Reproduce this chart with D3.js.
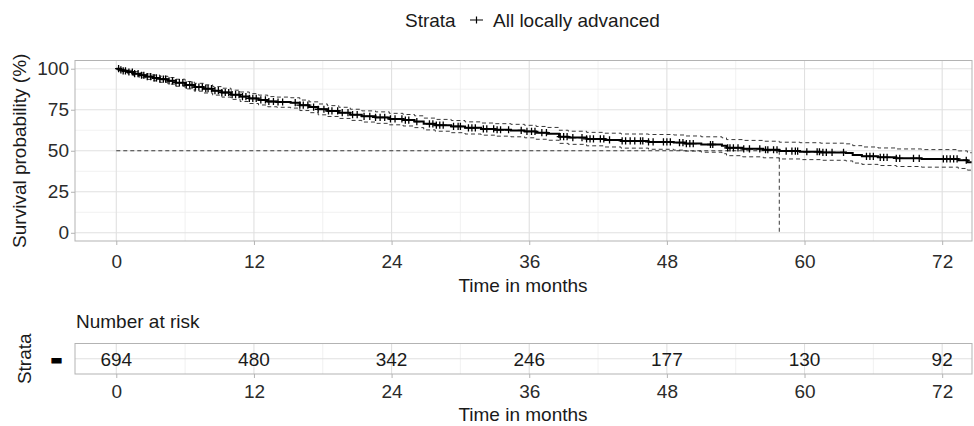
<!DOCTYPE html>
<html>
<head>
<meta charset="utf-8">
<script src="https://cdn.jsdelivr.net/npm/d3@7"></script>
<style>
  body { margin: 0; background: #fff; }
  svg { display: block; font-family: "Liberation Sans", Arial, sans-serif; }
</style>
</head>
<body>
<div id="chart-area"></div>
<script>
/*
*   KM survival curve + number at risk table
*/
// survival steps (months, %)
let times = [0, 0.3, 0.6, 1.0, 1.5, 2.0, 2.6, 3.2, 3.8, 4.5, 5.2, 6.0, 6.8, 7.6, 8.4, 9.2, 10.0, 10.8, 11.6,
    12.4, 13.2, 14.0, 15.2, 16.0, 16.8, 17.6, 18.4, 19.4, 20.4, 21.4, 22.6, 23.8, 25.0, 26.0, 26.8, 27.8,
    29.2, 30.4, 31.8, 33.0, 34.4, 35.6, 36.6, 37.6, 38.6, 39.4, 41.0, 42.6, 44.0, 46.4, 48.6, 49.6, 51.0,
    52.8, 53.2, 54.6, 56.4, 57.8, 59.6, 61.4, 63.6, 64.2, 65.0, 66.4, 68.0, 70.2, 73.4, 74.2, 75.0];
let surv = [100, 99.3, 98.7, 98.0, 97.0, 96.0, 95.2, 94.4, 93.6, 92.6, 91.5, 90.0, 88.8, 87.8, 86.6, 85.5, 84.2, 83.0, 81.9,
    81.0, 80.0, 79.7, 79.3, 77.8, 76.6, 75.3, 74.3, 73.2, 72.0, 71.0, 70.3, 69.4, 68.7, 67.8, 66.4, 65.6,
    64.8, 64.0, 63.3, 62.8, 62.4, 61.8, 61.0, 60.4, 58.6, 58.0, 57.2, 56.6, 56.0, 55.4, 55.0, 54.4, 53.8,
    53.0, 51.8, 51.2, 50.6, 49.8, 49.4, 49.0, 48.6, 47.4, 46.6, 46.0, 45.4, 45.0, 44.2, 43.0, 43.0];
let upper = [100, 99.8, 99.4, 99.0, 98.2, 97.4, 96.8, 96.1, 95.4, 94.6, 93.6, 92.2, 91.1, 90.2, 89.1, 88.1, 86.9, 85.8, 84.8,
    83.9, 83.0, 82.7, 82.3, 80.9, 79.8, 78.5, 77.5, 76.5, 75.3, 74.3, 73.7, 72.8, 72.1, 71.3, 69.9, 69.1,
    68.4, 67.6, 66.9, 66.5, 66.1, 65.5, 64.8, 64.2, 62.5, 61.9, 61.2, 60.7, 60.2, 59.9, 59.6, 59.0, 58.5,
    57.9, 56.8, 56.3, 55.8, 55.2, 54.9, 54.6, 54.2, 53.1, 52.3, 51.7, 51.1, 50.7, 49.9, 48.8, 48.8];
let lower = [100, 98.7, 97.9, 96.9, 95.7, 94.5, 93.5, 92.6, 91.7, 90.6, 89.3, 87.7, 86.3, 85.2, 83.9, 82.7, 81.3, 80.0, 78.8,
    77.9, 76.8, 76.5, 76.0, 74.5, 73.2, 71.9, 70.9, 69.7, 68.5, 67.5, 66.7, 65.8, 65.1, 64.1, 62.7, 61.9,
    61.0, 60.2, 59.5, 58.9, 58.5, 57.9, 57.0, 56.4, 54.5, 53.9, 53.0, 52.3, 51.6, 50.9, 50.4, 49.8, 49.1,
    48.2, 47.0, 46.3, 45.7, 45.0, 44.6, 44.2, 43.8, 42.5, 41.7, 41.0, 40.4, 40.0, 39.2, 38.2, 38.2];

// censored observations (months)
let censorTimes = [0.2, 0.4, 0.6, 0.8, 1.1, 1.4, 1.6, 1.9, 2.2, 2.4, 2.7, 3.0, 3.3, 3.5, 3.8, 4.1, 4.3, 4.6, 4.9,
    5.2, 5.5, 5.8, 6.1, 6.4, 6.6, 6.9, 7.2, 7.5, 7.8, 8.0, 8.3, 8.6, 8.9, 9.2, 9.5, 9.8, 10.1, 10.4, 10.7,
    11.0, 11.3, 11.6, 11.9, 12.2, 12.6, 13.0, 13.3, 13.7, 14.1, 14.5, 15.6, 16.0, 16.3, 16.7, 17.2, 17.6,
    18.1, 18.5, 18.8, 19.3, 19.7, 20.2, 20.6, 21.0, 21.6, 22.1, 22.6, 23.0, 23.4, 23.9, 24.3,
    24.9, 25.2, 25.5, 26.2, 27.3, 27.6, 27.9, 28.2, 28.5, 29.4, 29.8, 30.0, 30.7, 31.0, 31.3, 32.0, 32.3,
    32.9, 33.2, 33.5, 34.2, 35.3, 35.8, 36.2, 36.5, 37.1, 37.5, 38.7, 39.0, 39.3, 39.8, 40.6, 41.0, 41.3,
    41.6, 42.2, 42.5, 43.0, 44.1, 44.4, 44.8, 45.2, 45.7, 45.9, 46.4, 46.8, 47.7, 48.0, 48.3, 49.1, 49.4,
    49.7, 50.0, 50.3, 51.8, 52.0, 53.3, 53.5, 53.8, 54.2, 54.7, 55.2, 56.1, 56.6, 56.8, 57.3, 57.6, 58.4,
    58.9, 59.2, 59.4, 60.2, 61.1, 61.3, 61.6, 61.9, 62.4, 63.4, 65.4, 65.7, 66.0, 66.6, 66.9, 67.2, 68.0,
    68.3, 69.5, 70.0, 72.1, 72.4, 72.7, 73.0, 73.3, 74.1];

let medianTime = 57.8;
let xTicks = [0, 12, 24, 36, 48, 60, 72];
let yTicks = [0, 25, 50, 75, 100];
let riskTimes = [0, 12, 24, 36, 48, 60, 72];
let riskCounts = [694, 480, 342, 246, 177, 130, 92];
let strataName = "All locally advanced";

let W = 974, H = 426;
let fs = 19;
let panel = {left: 75, right: 972, top: 60.5, bottom: 241};
let table = {top: 343.5, bottom: 374};

let svg = d3.select("#chart-area")
            .append("svg")
            .attr("width", W)
            .attr("height", H);

let x = d3.scaleLinear()
        .domain([-3.6, 74.6])
        .range([panel.left, panel.right]);
let y = d3.scaleLinear()
        .domain([-5, 105])
        .range([panel.bottom, panel.top]);

let gridMajor = "#e0e0e0", gridMinor = "#eeeeee", borderCol = "#b3b3b3";
let tickText = "#2b2b2b", titleText = "#1a1a1a";

// minor / major grid for the main panel
let xMinor = [6, 18, 30, 42, 54, 66];
let yMinor = [12.5, 37.5, 62.5, 87.5];

let grid = svg.append("g");
grid.selectAll(".xminor").data(xMinor).enter().append("line")
    .attr("x1", d => x(d)).attr("x2", d => x(d))
    .attr("y1", panel.top).attr("y2", panel.bottom)
    .attr("stroke", gridMinor).attr("stroke-width", 0.8);
grid.selectAll(".yminor").data(yMinor).enter().append("line")
    .attr("x1", panel.left).attr("x2", panel.right)
    .attr("y1", d => y(d)).attr("y2", d => y(d))
    .attr("stroke", gridMinor).attr("stroke-width", 0.8);
grid.selectAll(".xmajor").data(xTicks).enter().append("line")
    .attr("x1", d => x(d)).attr("x2", d => x(d))
    .attr("y1", panel.top).attr("y2", panel.bottom)
    .attr("stroke", gridMajor).attr("stroke-width", 1.1);
grid.selectAll(".ymajor").data(yTicks).enter().append("line")
    .attr("x1", panel.left).attr("x2", panel.right)
    .attr("y1", d => y(d)).attr("y2", d => y(d))
    .attr("stroke", gridMajor).attr("stroke-width", 1.1);

// clip to the panel
svg.append("clipPath").attr("id", "clip")
    .append("rect")
    .attr("x", panel.left).attr("y", panel.top)
    .attr("width", panel.right - panel.left).attr("height", panel.bottom - panel.top);

let plot = svg.append("g").attr("clip-path", "url(#clip)");

// median lines
plot.append("line")
    .attr("x1", x(0)).attr("x2", x(medianTime))
    .attr("y1", y(50)).attr("y2", y(50))
    .attr("stroke", "#222").attr("stroke-width", 0.9)
    .attr("stroke-dasharray", "4,3");
plot.append("line")
    .attr("x1", x(medianTime)).attr("x2", x(medianTime))
    .attr("y1", y(50)).attr("y2", y(0))
    .attr("stroke", "#222").attr("stroke-width", 0.9)
    .attr("stroke-dasharray", "4,3");

let steps = times.map((t, i) => ({t: t, s: surv[i], u: upper[i], l: lower[i]}));

let lineOf = key => d3.line()
    .x(d => x(d.t))
    .y(d => y(d[key]))
    .curve(d3.curveStepAfter);

// confidence interval
["u", "l"].forEach(k => {
    plot.append("path")
        .datum(steps)
        .attr("d", lineOf(k))
        .attr("fill", "none")
        .attr("stroke", "#222")
        .attr("stroke-width", 0.9)
        .attr("stroke-dasharray", "4,3");
});

// survival curve
plot.append("path")
    .datum(steps)
    .attr("d", lineOf("s"))
    .attr("fill", "none")
    .attr("stroke", "#000")
    .attr("stroke-width", 2);

// censor marks
let bis = d3.bisector(d => d).right;
let survAt = t => surv[Math.max(0, bis(times, t) - 1)];
plot.selectAll(".censor")
    .data(censorTimes)
    .enter()
    .append("path")
    .attr("d", d => {
        let cx = x(d), cy = y(survAt(d));
        return "M" + (cx - 3.5) + "," + cy + "H" + (cx + 3.5) + "M" + cx + "," + (cy - 3.6) + "V" + (cy + 3.6);
    })
    .attr("stroke", "#000")
    .attr("stroke-width", 1.3);

// panel border
svg.append("rect")
    .attr("x", panel.left).attr("y", panel.top)
    .attr("width", panel.right - panel.left).attr("height", panel.bottom - panel.top)
    .attr("fill", "none").attr("stroke", borderCol).attr("stroke-width", 1);

// x axis
let xAxis = svg.append("g")
    .attr("transform", "translate(0," + panel.bottom + ")")
    .call(d3.axisBottom(x).tickValues(xTicks).tickSize(4).tickPadding(10));
xAxis.select(".domain").remove();
xAxis.selectAll("line").attr("stroke", borderCol);
xAxis.selectAll("text").attr("fill", tickText).attr("font-size", fs)
    .attr("font-family", "Liberation Sans, Arial, sans-serif");

// y axis
let yAxis = svg.append("g")
    .attr("transform", "translate(" + panel.left + ",0)")
    .call(d3.axisLeft(y).tickValues(yTicks).tickSize(4).tickPadding(2));
yAxis.select(".domain").remove();
yAxis.selectAll("line").attr("stroke", borderCol);
yAxis.selectAll("text").attr("fill", tickText).attr("font-size", fs)
    .attr("font-family", "Liberation Sans, Arial, sans-serif");

// axis titles
svg.append("text")
    .text("Time in months")
    .attr("x", 523)
    .attr("y", 292)
    .attr("text-anchor", "middle")
    .attr("font-size", fs)
    .attr("fill", titleText);
svg.append("text")
    .text("Survival probability (%)")
    .attr("transform", "translate(26," + ((panel.top + panel.bottom) / 2) + ") rotate(-90)")
    .attr("text-anchor", "middle")
    .attr("font-size", fs)
    .attr("fill", titleText);

// legend
let legend = svg.append("g");
legend.append("text")
    .text("Strata")
    .attr("x", 405).attr("y", 27)
    .attr("font-size", fs)
    .attr("fill", titleText);
legend.append("path")
    .attr("d", "M470,20H483M476.5,16.5V23.5")
    .attr("stroke", "#000").attr("stroke-width", 1.2);
legend.append("text")
    .text(strataName)
    .attr("x", 493).attr("y", 27)
    .attr("font-size", fs)
    .attr("fill", titleText);

/*
*   risk table
*/
svg.append("text")
    .text("Number at risk")
    .attr("x", 76).attr("y", 328)
    .attr("font-size", fs)
    .attr("fill", titleText);

let tGrid = svg.append("g");
tGrid.selectAll(".tminor").data(xMinor).enter().append("line")
    .attr("x1", d => x(d)).attr("x2", d => x(d))
    .attr("y1", table.top).attr("y2", table.bottom)
    .attr("stroke", gridMinor).attr("stroke-width", 0.8);
tGrid.selectAll(".tmajor").data(xTicks).enter().append("line")
    .attr("x1", d => x(d)).attr("x2", d => x(d))
    .attr("y1", table.top).attr("y2", table.bottom)
    .attr("stroke", gridMajor).attr("stroke-width", 1.1);
tGrid.append("line")
    .attr("x1", panel.left).attr("x2", panel.right)
    .attr("y1", (table.top + table.bottom) / 2).attr("y2", (table.top + table.bottom) / 2)
    .attr("stroke", gridMajor).attr("stroke-width", 1.1);

svg.selectAll(".risk")
    .data(riskCounts)
    .enter()
    .append("text")
    .text(d => d)
    .attr("x", (d, i) => x(riskTimes[i]))
    .attr("y", 366)
    .attr("text-anchor", "middle")
    .attr("font-size", fs)
    .attr("fill", titleText);

svg.append("rect")
    .attr("x", panel.left).attr("y", table.top)
    .attr("width", panel.right - panel.left).attr("height", table.bottom - table.top)
    .attr("fill", "none").attr("stroke", borderCol).attr("stroke-width", 1);

let tAxis = svg.append("g")
    .attr("transform", "translate(0," + table.bottom + ")")
    .call(d3.axisBottom(x).tickValues(riskTimes).tickSize(4).tickPadding(7));
tAxis.select(".domain").remove();
tAxis.selectAll("line").attr("stroke", borderCol);
tAxis.selectAll("text").attr("fill", tickText).attr("font-size", fs)
    .attr("font-family", "Liberation Sans, Arial, sans-serif");

svg.append("text")
    .text("Time in months")
    .attr("x", 523)
    .attr("y", 421)
    .attr("text-anchor", "middle")
    .attr("font-size", fs)
    .attr("fill", titleText);

svg.append("text")
    .text("Strata")
    .attr("transform", "translate(31," + ((table.top + table.bottom) / 2) + ") rotate(-90)")
    .attr("text-anchor", "middle")
    .attr("font-size", fs)
    .attr("fill", titleText);

// strata key in the table
svg.append("text")
    .text("-")
    .attr("x", 56.5)
    .attr("y", 370)
    .attr("text-anchor", "middle")
    .attr("font-size", 36)
    .attr("font-weight", "bold")
    .attr("stroke", "#000")
    .attr("stroke-width", 1)
    .attr("fill", "#000");
</script>
</body>
</html>
